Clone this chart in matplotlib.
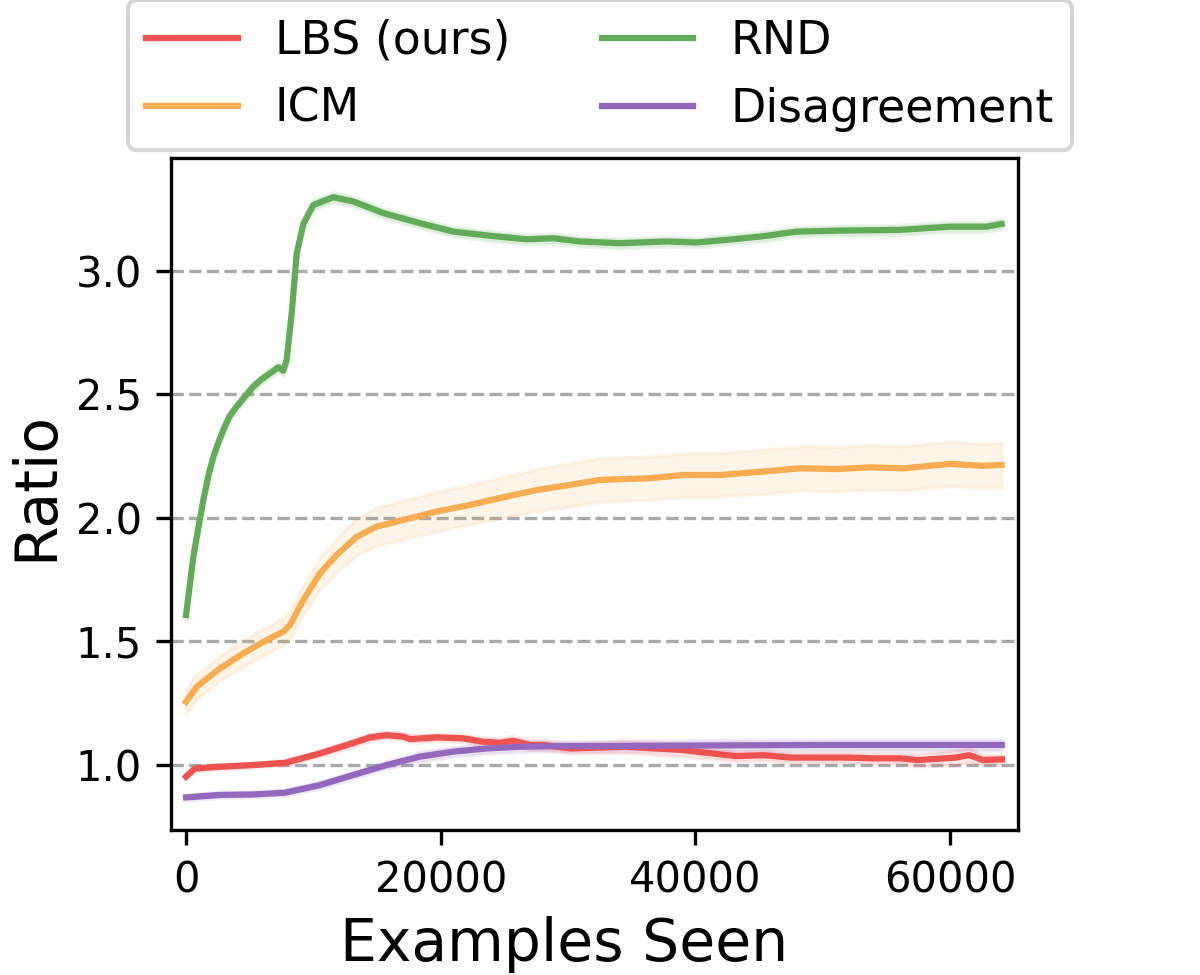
import matplotlib
matplotlib.use("Agg")
import matplotlib.pyplot as plt

#------------------------values------------------------
rnd_x = [0, 575, 1000, 1360, 1750, 2145, 2500, 2930, 3400, 3980, 4600, 5285,
         5900, 6600, 7250, 7640, 7900, 8300, 8690, 9210, 10000, 11570, 13140,
         15490, 18375, 20990, 23870, 26750, 28840, 30940, 34080, 37750, 40100,
         42980, 45600, 47950, 51350, 56070, 59990, 62870, 64050]
rnd_y = [1.607, 1.843, 1.970, 2.073, 2.170, 2.248, 2.300, 2.356, 2.410, 2.451,
         2.490, 2.532, 2.560, 2.586, 2.610, 2.596, 2.640, 2.830, 3.070, 3.190,
         3.267, 3.298, 3.281, 3.234, 3.193, 3.159, 3.142, 3.128, 3.132, 3.119,
         3.112, 3.119, 3.115, 3.128, 3.142, 3.159, 3.163, 3.166, 3.179, 3.179,
         3.190]
rnd_err = [0.02] * len(rnd_x)

icm_x = [0, 840, 2670, 4500, 6340, 7640, 8170, 9210, 10520, 11830, 13400,
         14970, 17060, 19680, 22300, 24920, 27540, 30150, 32500, 36430, 39050,
         41930, 45330, 48210, 51090, 53710, 56330, 60000, 62600, 64050]
icm_y = [1.256, 1.317, 1.391, 1.452, 1.506, 1.540, 1.567, 1.668, 1.776, 1.850,
         1.924, 1.965, 1.992, 2.026, 2.053, 2.084, 2.113, 2.134, 2.154, 2.161,
         2.174, 2.174, 2.188, 2.201, 2.198, 2.205, 2.201, 2.219, 2.211, 2.215]
icm_err = [0.05, 0.05, 0.05, 0.055, 0.055, 0.055, 0.055, 0.06, 0.065, 0.07,
           0.075, 0.078, 0.078, 0.08, 0.08, 0.082, 0.085, 0.088, 0.088, 0.088,
           0.088, 0.088, 0.09, 0.09, 0.09, 0.09, 0.09, 0.09, 0.09, 0.09]

lbs_x = [0, 700, 2670, 5285, 7770, 10520, 12620, 14450, 15760, 17060, 17590,
         19680, 21780, 23350, 24660, 25700, 27010, 28110, 30150, 34570, 38870,
         43190, 45340, 47490, 51800, 53940, 56100, 57400, 60420, 61490, 62570,
         64080]
lbs_y = [0.953, 0.986, 0.993, 1.000, 1.009, 1.047, 1.081, 1.112, 1.121, 1.115,
         1.105, 1.112, 1.108, 1.094, 1.090, 1.098, 1.081, 1.081, 1.067, 1.074,
         1.061, 1.036, 1.040, 1.030, 1.030, 1.027, 1.027, 1.020, 1.030, 1.040,
         1.020, 1.023]
lbs_err = [0.01, 0.01, 0.01, 0.01, 0.01, 0.012, 0.015, 0.015, 0.015, 0.015,
           0.015, 0.015, 0.015, 0.018, 0.02, 0.02, 0.02, 0.02, 0.02, 0.025,
           0.025, 0.02, 0.02, 0.02, 0.02, 0.02, 0.02, 0.025, 0.03, 0.03,
           0.02, 0.02]

dis_x = [0, 2670, 5285, 7770, 10520, 13140, 15760, 18375, 20990, 23610, 26230,
         30150, 34080, 40000, 50000, 64050]
dis_y = [0.869, 0.879, 0.881, 0.888, 0.919, 0.960, 1.000, 1.034, 1.054, 1.067,
         1.074, 1.077, 1.077, 1.079, 1.081, 1.081]
dis_err = [0.012, 0.012, 0.012, 0.012, 0.015, 0.015, 0.015, 0.02, 0.02, 0.02,
           0.02, 0.02, 0.02, 0.022, 0.022, 0.022]

series = [
    ("LBS (ours)", lbs_x, lbs_y, lbs_err, "#EF5350"),
    ("ICM", icm_x, icm_y, icm_err, "#F9AD52"),
    ("RND", rnd_x, rnd_y, rnd_err, "#62AB58"),
    ("Disagreement", dis_x, dis_y, dis_err, "#9468BD"),
]

#------------------------------------plotting------------------------------------
fig = plt.figure(figsize=(4, 3.25), dpi=300)
ax = fig.add_axes([171 / 1200, 1 - 830 / 975, (1018 - 171) / 1200, (830 - 158) / 975])

for name, xs, ys, err, color in series:
    lo = [y - e for y, e in zip(ys, err)]
    hi = [y + e for y, e in zip(ys, err)]
    ax.fill_between(xs, lo, hi, color=color, alpha=0.12, linewidth=0.8)
    ax.plot(xs, ys, color=color, linewidth=1.5, label=name)

ax.set_xlim(-1180, 65330)
ax.set_ylim(0.737, 3.457)
ax.set_xticks([0, 20000, 40000, 60000])
ax.set_yticks([1.0, 1.5, 2.0, 2.5, 3.0])
ax.tick_params(labelsize=10)
ax.yaxis.grid(True, linestyle="--", color="#aaaaaa", linewidth=0.8)
ax.set_axisbelow(True)
ax.set_xlabel("Examples Seen", fontsize=14, labelpad=3.5)
ax.set_ylabel("Ratio", fontsize=14, labelpad=2.8)
ax.xaxis.label.set_x(0.464)
ax.yaxis.label.set_y(0.512)

fig.legend(loc="lower center", bbox_to_anchor=(600 / 1200, 1 - 150 / 975),
           ncol=2, fontsize=11, borderaxespad=0)

fig.savefig("out.png", dpi=300)
